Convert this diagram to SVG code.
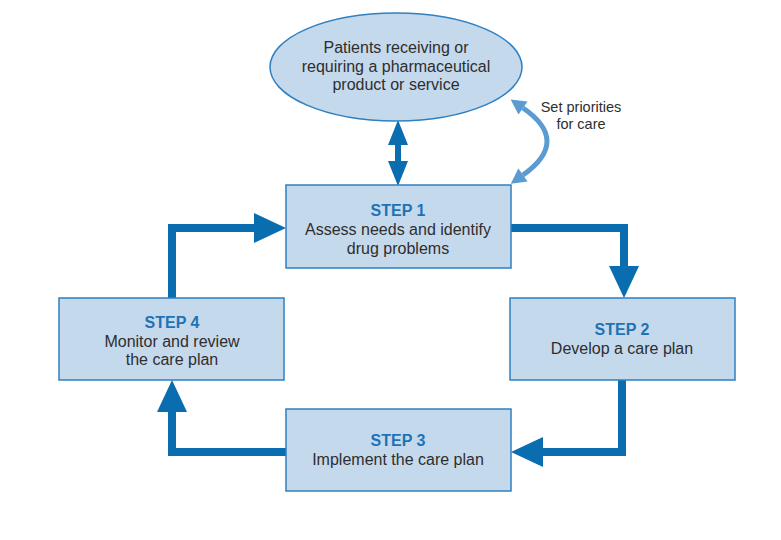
<svg xmlns="http://www.w3.org/2000/svg" width="781" height="540" viewBox="0 0 781 540">
  <style>
    .box { fill: #c5d9ed; stroke: #2f80c0; stroke-width: 1.5; }
    .txt { font-family: "Liberation Sans", Arial, sans-serif; font-size: 16px; fill: #2e2e2e; text-anchor: middle; }
    .step { font-family: "Liberation Sans", Arial, sans-serif; font-size: 16px; font-weight: bold; fill: #1e73b5; text-anchor: middle; }
    .note { font-family: "Liberation Sans", Arial, sans-serif; font-size: 14.5px; fill: #2e2e2e; text-anchor: middle; }
    .flow { fill: none; stroke: #0a6db0; stroke-width: 8; stroke-linejoin: miter; marker-end: url(#head); }
    .loop { fill: none; stroke: #5a9bd1; stroke-width: 5; marker-start: url(#small); marker-end: url(#small); }
  </style>
  <defs>
    <marker id="head" markerUnits="userSpaceOnUse" markerWidth="34" markerHeight="30" refX="0" refY="15" orient="auto" overflow="visible">
      <path d="M0,0 L32,15 L0,30 z" fill="#0a6db0"/>
    </marker>
    <marker id="small" markerUnits="userSpaceOnUse" markerWidth="16" markerHeight="16" refX="0" refY="8" orient="auto-start-reverse" overflow="visible">
      <path d="M0,0 L15,8 L0,16 z" fill="#5a9bd1"/>
    </marker>
  </defs>
  <rect width="781" height="540" fill="#ffffff"/>

  <g id="connectors">
    <path class="flow" d="M511,228 H624 V266"/>
    <path class="flow" d="M622,380 V452 H543"/>
    <path class="flow" d="M286,452 H172 V412"/>
    <path class="flow" d="M172,298 V228 H254"/>
    <polygon fill="#0a6db0" points="398,120 408,145 401,145 401,161 408,161 398,186 388,161 395,161 395,145 388,145"/>
    <path class="loop" d="M523,108 Q571,141 523,175"/>
  </g>

  <g id="patients">
    <ellipse class="box" cx="396" cy="67" rx="126" ry="54"/>
    <text class="txt" x="396" y="53">Patients receiving or</text>
    <text class="txt" x="396" y="72">requiring a pharmaceutical</text>
    <text class="txt" x="396" y="90">product or service</text>
  </g>

  <g id="priorities">
    <text class="note" x="581" y="112">Set priorities</text>
    <text class="note" x="581" y="129">for care</text>
  </g>

  <g id="step1">
    <rect class="box" x="286" y="185" width="225" height="83"/>
    <text class="step" x="398" y="216">STEP 1</text>
    <text class="txt" x="398" y="235">Assess needs and identify</text>
    <text class="txt" x="398" y="254">drug problems</text>
  </g>

  <g id="step2">
    <rect class="box" x="510" y="298" width="225" height="82"/>
    <text class="step" x="622" y="335">STEP 2</text>
    <text class="txt" x="622" y="354">Develop a care plan</text>
  </g>

  <g id="step3">
    <rect class="box" x="286" y="409" width="225" height="82"/>
    <text class="step" x="398" y="446">STEP 3</text>
    <text class="txt" x="398" y="465">Implement the care plan</text>
  </g>

  <g id="step4">
    <rect class="box" x="59" y="298" width="225" height="82"/>
    <text class="step" x="172" y="328">STEP 4</text>
    <text class="txt" x="172" y="347">Monitor and review</text>
    <text class="txt" x="172" y="365">the care plan</text>
  </g>
</svg>
